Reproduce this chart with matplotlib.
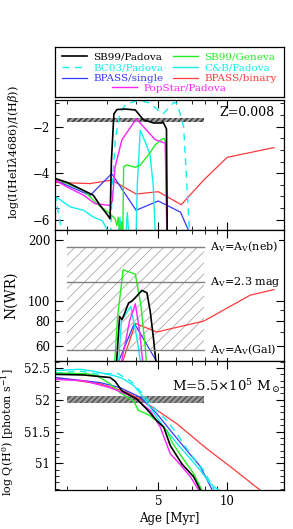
import numpy as np
import matplotlib
matplotlib.use("Agg")
from matplotlib import pyplot as plt
from matplotlib.lines import Line2D
from matplotlib.ticker import FixedLocator, NullFormatter, FixedFormatter

plt.rcParams['font.family'] = ['DejaVu Serif']
plt.rcParams['mathtext.fontset'] = 'dejavuserif'

# ---- panel 1: log(I(HeII 4686)/I(Hbeta)) ----
heii_sb99p_age = [1.77, 2.0, 2.36, 2.6, 2.79, 3.0, 3.08, 3.12, 3.2, 3.3, 3.6, 3.97, 4.3, 4.77, 5.19, 5.25, 5.43, 5.47]
heii_sb99p_val = [-4.23, -4.4, -4.75, -4.95, -5.4, -5.8, -5.97, -3.5, -1.45, -1.26, -1.24, -1.28, -1.7, -1.84, -1.84, -1.8, -2.1, -6.6]
heii_sb99g_age = [1.77, 2.36, 2.7, 3.08, 3.24, 3.3, 3.34, 3.4, 3.46, 3.5, 3.53, 3.65, 3.97, 4.17, 4.53, 4.85, 5.19, 5.3, 5.4, 5.46]
heii_sb99g_val = [-4.23, -4.74, -5.32, -5.75, -5.97, -6.26, -5.9, -6.6, -6.1, -6.6, -3.72, -3.65, -3.75, -3.65, -3.22, -2.78, -2.54, -2.5, -2.7, -6.6]
heii_bc03_age = [1.77, 1.83, 1.9, 3.1, 3.15, 3.25, 3.4, 3.6, 3.9, 4.2, 4.6, 5.0, 5.25, 5.55, 5.85, 6.05, 6.45, 6.7, 6.85]
heii_bc03_val = [-4.9, -5.7, -6.6, -6.6, -4.5, -2.5, -1.4, -1.05, -0.92, -0.88, -0.98, -1.3, -1.45, -1.2, -0.95, -1.0, -2.0, -4.9, -6.6]
heii_cb_age = [1.77, 2.07, 2.36, 2.61, 2.85, 2.97, 3.05, 3.35, 3.4, 3.45, 3.62, 3.66, 3.72, 4.0, 4.05, 4.17, 4.38, 4.6, 4.75, 4.85]
heii_cb_val = [-5.0, -5.46, -5.6, -5.9, -6.05, -6.4, -6.6, -6.6, -5.9, -6.6, -6.6, -5.7, -6.6, -6.6, -4.5, -2.15, -2.65, -3.2, -4.5, -6.6]
heii_bps_age = [1.77, 2.52, 3.13, 4.0, 5.0, 6.25, 6.8]
heii_bps_val = [-4.3, -4.96, -4.02, -5.6, -5.2, -5.68, -6.5]
heii_bpb_age = [1.77, 2.52, 3.13, 4.0, 5.0, 6.3, 7.89, 10.0, 16.0]
heii_bpb_val = [-4.4, -4.45, -4.3, -4.9, -4.8, -5.36, -4.3, -3.32, -2.9]
heii_pop_age = [1.77, 2.0, 2.36, 2.65, 3.08, 3.15, 3.24, 3.47, 4.01, 4.85, 5.36, 5.45]
heii_pop_val = [-4.3, -4.6, -4.95, -5.32, -5.39, -5.2, -3.73, -2.56, -1.66, -2.56, -2.71, -6.6]

# ---- panel 2: N(WR) ----
nwr_sb99p_age = [3.28, 3.39, 3.47, 3.55, 3.71, 3.83, 3.97, 4.24, 4.46, 4.61, 4.76, 4.9]
nwr_sb99p_val = [48, 84, 81, 86, 98, 100, 104, 113, 110, 89, 66, 48]
nwr_sb99g_age = [3.22, 3.32, 3.51, 3.97, 4.2, 4.38, 4.45]
nwr_sb99g_val = [48, 83, 143, 136, 95, 60, 48]
nwr_cb_age = [3.35, 3.45, 3.55, 3.79, 4.03, 4.2]
nwr_cb_val = [48, 80, 84, 94, 66, 48]
nwr_bps_age = [3.3, 3.92, 4.0, 4.93]
nwr_bps_val = [48, 77, 75, 50]
nwr_bpb_age = [3.45, 3.97, 4.93, 7.9, 12.6, 16.0]
nwr_bpb_val = [48, 77.5, 70.3, 79.6, 107, 114]
nwr_pop_age = [3.43, 3.75, 3.97, 4.15, 4.29]
nwr_pop_val = [48, 80, 97, 70, 48]

# ---- panel 3: log Q(H0) ----
q_sb99p_age = [1.77, 2.36, 3.08, 3.24, 3.47, 4.03, 4.46, 4.93, 5.28, 5.64, 6.34, 7.13, 7.63]
q_sb99p_val = [52.40, 52.39, 52.35, 52.29, 52.14, 52.01, 51.85, 51.67, 51.57, 51.28, 50.99, 50.79, 50.58]
q_sb99g_age = [1.77, 2.44, 2.70, 3.08, 3.41, 3.9, 4.1, 4.3, 4.6, 5.1, 5.46, 5.74, 6.34, 7.13, 7.75]
q_sb99g_val = [52.42, 52.41, 52.38, 52.25, 52.11, 51.98, 51.83, 51.80, 51.75, 51.62, 51.51, 51.33, 51.10, 50.84, 50.58]
q_bc03_age = [1.77, 2.28, 2.79, 3.30, 3.77, 4.3, 4.77, 5.46, 6.04, 6.9, 7.89, 8.8]
q_bc03_val = [52.42, 52.45, 52.40, 52.42, 52.30, 52.09, 51.88, 51.67, 51.46, 51.15, 50.89, 50.58]
q_cb_age = [1.77, 2.28, 2.61, 3.24, 3.47, 3.92, 4.3, 4.77, 5.28, 6.04, 6.79, 7.63, 8.43, 9.16]
q_cb_val = [52.46, 52.48, 52.45, 52.375, 52.34, 52.22, 52.04, 51.80, 51.57, 51.31, 51.10, 50.89, 50.68, 50.58]
q_bps_age = [1.77, 2.79, 3.41, 4.17, 4.93, 5.64, 6.67, 7.63, 8.6]
q_bps_val = [52.35, 52.27, 52.19, 52.04, 51.78, 51.52, 51.20, 50.95, 50.58]
q_bpb_age = [1.77, 2.79, 3.65, 4.3, 5.1, 6.04, 8.14, 10.3, 13.9]
q_bpb_val = [52.35, 52.25, 52.12, 51.98, 51.80, 51.62, 51.23, 50.95, 50.58]
q_pop_age = [1.77, 2.36, 3.08, 3.9, 4.61, 5.1, 5.64, 6.2, 6.9, 7.5]
q_pop_val = [52.32, 52.30, 52.19, 52.04, 51.83, 51.57, 51.15, 50.99, 50.79, 50.58]

# observed constraints
obs_age = [2.0, 7.9]
heii_obs = (-1.78, -1.63)
wr_levels = [186, 125, 57.5]
wr_labels = [r'A$_{\rm V}$=A$_{\rm V}$(neb)', r'A$_{\rm V}$=2.3 mag', r'A$_{\rm V}$=A$_{\rm V}$(Gal)']
q_obs = (51.955, 52.055)

models = ['SB99/Padova', 'SB99/Geneva', 'BC03/Padova', 'C&B/Padova',
          'BPASS/single', 'BPASS/binary', 'PopStar/Padova']
colors = ['black', '#22ee22', '#11eeee', '#11eeee', '#3838ff', '#ff3a3a', '#ff22ff']
styles = ['-', '-', (0, (5, 4)), '-', '-', '-', '-']
widths = [1.2, 1.0, 1.0, 1.0, 0.9, 0.9, 1.0]

heii = [(heii_sb99p_age, heii_sb99p_val), (heii_sb99g_age, heii_sb99g_val),
        (heii_bc03_age, heii_bc03_val), (heii_cb_age, heii_cb_val),
        (heii_bps_age, heii_bps_val), (heii_bpb_age, heii_bpb_val),
        (heii_pop_age, heii_pop_val)]
nwr = [(nwr_sb99p_age, nwr_sb99p_val), (nwr_sb99g_age, nwr_sb99g_val),
       None, (nwr_cb_age, nwr_cb_val),
       (nwr_bps_age, nwr_bps_val), (nwr_bpb_age, nwr_bpb_val),
       (nwr_pop_age, nwr_pop_val)]
qh = [(q_sb99p_age, q_sb99p_val), (q_sb99g_age, q_sb99g_val),
      (q_bc03_age, q_bc03_val), (q_cb_age, q_cb_val),
      (q_bps_age, q_bps_val), (q_bpb_age, q_bpb_val),
      (q_pop_age, q_pop_val)]

fig = plt.figure(figsize=(2.93, 5.29), dpi=100)
L, W = 55 / 293, 229 / 293
ax1 = fig.add_axes([L, 1 - 230 / 529, W, 130 / 529])
ax2 = fig.add_axes([L, 1 - 361 / 529, W, 131 / 529])
ax3 = fig.add_axes([L, 1 - 490 / 529, W, 129 / 529])

draw_order = [5, 4, 3, 2, 1, 6, 0]
for ax, data in [(ax1, heii), (ax2, nwr), (ax3, qh)]:
    for i in draw_order:
        if data[i] is None:
            continue
        ax.plot(data[i][0], data[i][1], color=colors[i], ls=styles[i], lw=widths[i])

# observations
plt.rcParams['hatch.linewidth'] = 0.8
ax1.fill_between(obs_age, heii_obs[0], heii_obs[1], facecolor='#999999',
                 edgecolor='#222222', hatch='//////', lw=0, zorder=1)
ax3.fill_between(obs_age, q_obs[0], q_obs[1], facecolor='#9a9a9a',
                 edgecolor='#444444', hatch='//////', lw=0, zorder=1)
plt.rcParams['hatch.linewidth'] = 0.5
ax2.fill_between(obs_age, wr_levels[2], wr_levels[0], facecolor='none',
                 edgecolor='#999999', hatch='///', lw=0, zorder=0)
for lev, lab in zip(wr_levels, wr_labels):
    ax2.plot(obs_age, [lev, lev], color='#808080', lw=1.0)
    ax2.text(0.675, lev, lab, transform=ax2.get_yaxis_transform(), fontsize=8,
             va='center', ha='left', clip_on=False, zorder=5,
             bbox=dict(facecolor='white', edgecolor='none', pad=0.6))

for ax in (ax1, ax2, ax3):
    ax.set_xscale('log')
    ax.set_xlim(1.77, 17.7)
    ax.xaxis.set_major_locator(FixedLocator([5, 10]))
    ax.xaxis.set_minor_locator(FixedLocator([2, 3, 4, 6, 7, 8, 9]))
    ax.xaxis.set_minor_formatter(NullFormatter())
    ax.tick_params(which='both', direction='in', top=True, right=True, labelsize=8.5)
    ax.tick_params(which='major', length=6, width=0.8)
    ax.tick_params(which='minor', length=3, width=0.6)
    for s in ax.spines.values():
        s.set_linewidth(0.9)

ax1.xaxis.set_major_formatter(NullFormatter())
ax2.xaxis.set_major_formatter(NullFormatter())
ax3.xaxis.set_major_formatter(FixedFormatter(['5', '10']))

ax1.set_ylim(-6.45, -0.85)
ax1.yaxis.set_major_locator(FixedLocator([-6, -4, -2]))
ax1.yaxis.set_minor_locator(FixedLocator(np.arange(-6.5, -0.5, 0.5)))
ax1.set_ylabel(r'log(I(HeII$\lambda$4686)/I(H$\beta$))', fontsize=8)
ax1.yaxis.set_label_coords(-0.15, 0.6)
ax1.text(0.96, 0.9, 'Z=0.008', transform=ax1.transAxes, ha='right', va='center', fontsize=9)

ax2.set_yscale('log')
ax2.set_ylim(50.5, 225)
ax2.yaxis.set_major_locator(FixedLocator([60, 80, 100, 200]))
ax2.yaxis.set_major_formatter(FixedFormatter(['60', '80', '100', '200']))
ax2.yaxis.set_minor_locator(FixedLocator([70, 90]))
ax2.yaxis.set_minor_formatter(NullFormatter())
ax2.set_ylabel('N(WR)', fontsize=10)
ax2.yaxis.set_label_coords(-0.16, 0.5)

ax3.set_ylim(50.58, 52.61)
ax3.yaxis.set_major_locator(FixedLocator([51, 51.5, 52, 52.5]))
ax3.yaxis.set_major_formatter(FixedFormatter(['51', '51.5', '52', '52.5']))
ax3.yaxis.set_minor_locator(FixedLocator(np.arange(50.6, 52.65, 0.1)))
ax3.set_ylabel(r'log Q(H$^0$) [photon s$^{-1}$]', fontsize=8)
ax3.yaxis.set_label_coords(-0.17, 0.45)
ax3.set_xlabel('Age [Myr]', fontsize=8.5, labelpad=3)
ax3.text(0.985, 0.81, r'M=5.5$\times$10$^5$ M$_\odot$', transform=ax3.transAxes,
         ha='right', va='center', fontsize=9.5)

# legend box
lax = fig.add_axes([L, 1 - 97 / 529, W, 50 / 529])
lax.set_xticks([])
lax.set_yticks([])
for s in lax.spines.values():
    s.set_linewidth(0.9)
handles = [Line2D([], [], color=colors[i], ls=styles[i], lw=widths[i]) for i in range(7)]
col_order = [0, 2, 4, 1, 3, 5]
leg = lax.legend([handles[i] for i in col_order], [models[i] for i in col_order],
                 ncol=2, loc='upper center', bbox_to_anchor=(0.5, 1.06), frameon=False,
                 fontsize=7.5, handlelength=2.4, handletextpad=0.6, columnspacing=0.9,
                 labelspacing=0.15, labelcolor='linecolor', borderpad=0.3)
lax.add_artist(leg)
lax.legend([handles[6]], [models[6]], loc='lower center', bbox_to_anchor=(0.5, -0.08),
           frameon=False, fontsize=7.5, handlelength=2.4, handletextpad=0.6,
           labelcolor='linecolor', borderpad=0.3)

fig.savefig('out.png', dpi=100)
